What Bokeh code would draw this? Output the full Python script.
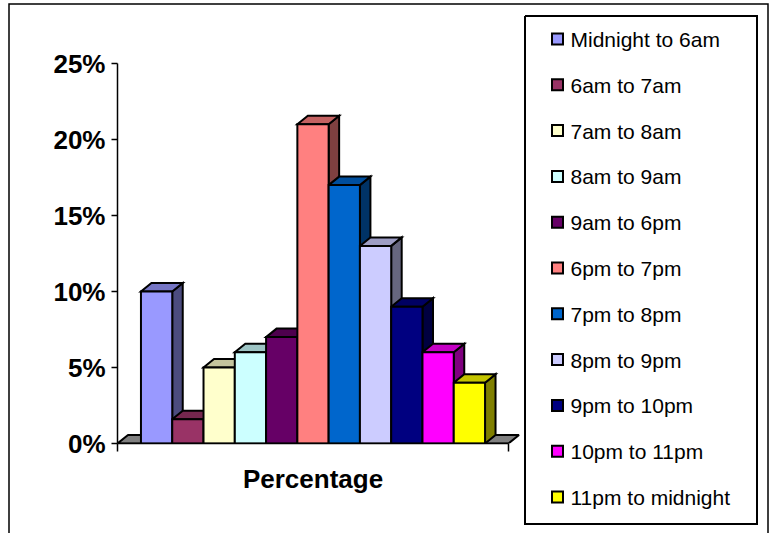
from bokeh.plotting import figure
from bokeh.models import Range1d, FixedTicker, NumeralTickFormatter
from bokeh.core.properties import value
from bokeh.embed import file_html
from bokeh.resources import INLINE

# ---------------- data ----------------
categories = ["Midnight to 6am", "6am to 7am", "7am to 8am", "8am to 9am",
              "9am to 6pm", "6pm to 7pm", "7pm to 8pm", "8pm to 9pm",
              "9pm to 10pm", "10pm to 11pm", "11pm to midnight"]
values = [0.10, 0.016, 0.05, 0.06, 0.07, 0.21, 0.17, 0.13, 0.09, 0.06, 0.04]
colors = ["#9999FF", "#993366", "#FFFFCC", "#CCFFFF", "#660066", "#FF8080",
          "#0066CC", "#CCCCFF", "#000080", "#FF00FF", "#FFFF00"]
y_ticks = [0.0, 0.05, 0.10, 0.15, 0.20, 0.25]
x_label = "Percentage"

# ---------------- layout (canvas pixels) ----------------
W, H = 773, 533
FL, FT, FR, FB = 117, 30, 522, 443      # frame left/top/right/bottom
PX_X = 391.0                              # pixels per x unit (category width)
PX_Y = 1520.0                             # pixels per y unit
x_end = (FR - FL) / PX_X
y_end = (FB - FT) / PX_Y
DX = 10.5 / PX_X                          # 3-D depth offset
DY = 8.5 / PX_Y
FONT = "Liberation Sans"
LW = 2


def shade(hexcol, f):
    r, g, b = (int(hexcol[i:i + 2], 16) for i in (1, 3, 5))
    return "#%02x%02x%02x" % (int(r * f), int(g * f), int(b * f))


def to_data(sx, sy):
    return (sx - FL) / PX_X, (FB - sy) / PX_Y


p = figure(width=W, height=H, output_backend="svg", toolbar_location=None,
           x_range=Range1d(0, x_end), y_range=Range1d(0, y_end),
           min_border_left=FL, min_border_right=W - FR,
           min_border_top=FT, min_border_bottom=H - FB)
p.grid.visible = False
p.outline_line_color = None
p.background_fill_color = "white"
p.border_fill_color = "white"

# floor
p.patch(x=[0, 1, 1 + DX, DX], y=[0, 0, DY, DY], fill_color="#808080",
        line_color="black", line_width=LW)

n = len(values)
w = 1.0 / (n + 1.5)
gap = 0.75 * w
lefts = [gap + i * w for i in range(n)]
rights = [l + w for l in lefts]

side_xs = [[r, r + DX, r + DX, r] for r in rights]
side_ys = [[0, DY, v + DY, v] for v in values]
top_xs = [[l, r, r + DX, l + DX] for l, r in zip(lefts, rights)]
top_ys = [[v, v, v + DY, v + DY] for v in values]

p.patches(xs=side_xs, ys=side_ys, fill_color=[shade(c, 0.5) for c in colors],
          line_color="black", line_width=LW, line_join="miter")
p.patches(xs=top_xs, ys=top_ys, fill_color=[shade(c, 0.77) for c in colors],
          line_color="black", line_width=LW, line_join="miter")
p.quad(left=lefts, right=rights, bottom=0, top=values,
       fill_color=colors, line_color="black", line_width=LW,
       line_join="miter")

# axes
xa = p.xaxis[0]
xa.ticker = FixedTicker(ticks=[0.5], minor_ticks=[0, 1])
xa.bounds = (0, 1)
xa.major_label_overrides = {0.5: x_label}
xa.major_tick_line_color = None
xa.major_tick_out = 0
xa.major_tick_in = 0
xa.minor_tick_out = 8
xa.minor_tick_in = 0
xa.minor_tick_line_color = "black"
xa.minor_tick_line_width = 1.5
xa.axis_line_width = 1.5
xa.axis_line_color = "black"
xa.major_label_text_font = FONT
xa.major_label_text_font_style = "bold"
xa.major_label_text_font_size = "26px"
xa.major_label_text_color = "black"
xa.major_label_standoff = 12

ya = p.yaxis[0]
ya.ticker = FixedTicker(ticks=y_ticks)
ya.bounds = (0, 0.25)
ya.formatter = NumeralTickFormatter(format="0%")
ya.major_tick_out = 6
ya.major_tick_in = 0
ya.major_tick_line_width = 1.5
ya.major_tick_line_color = "black"
ya.minor_tick_line_color = None
ya.axis_line_width = 1.5
ya.axis_line_color = "black"
ya.major_label_text_font = FONT
ya.major_label_text_font_style = "bold"
ya.major_label_text_font_size = "26px"
ya.major_label_text_color = "black"
ya.major_label_standoff = 6

# legend (drawn on the overlay level so it is not clipped to the frame)
LEG_ICON_X, LEG_TEXT_X, LEG_Y0, LEG_DY, ICON = 557.0, 570.0, 38.5, 45.8, 11.0
for i, (c, lab) in enumerate(zip(colors, categories)):
    cy = LEG_Y0 + i * LEG_DY
    sq = [(LEG_ICON_X - ICON / 2, cy - ICON / 2), (LEG_ICON_X + ICON / 2, cy - ICON / 2),
          (LEG_ICON_X + ICON / 2, cy + ICON / 2), (LEG_ICON_X - ICON / 2, cy + ICON / 2)]
    sx, sy = zip(*[to_data(a, b) for a, b in sq])
    p.patch(x=list(sx), y=list(sy), fill_color=c, line_color="black",
            line_width=2, line_join="miter", level="overlay")
text_pts = [to_data(LEG_TEXT_X, LEG_Y0 + 0.5 + i * LEG_DY) for i in range(n)]
p.text(x=[a for a, b in text_pts], y=[b for a, b in text_pts], text=categories,
       text_font=value(FONT), text_font_size="21px", text_color="black",
       text_baseline="middle", text_align="left", level="overlay")

# legend box and outer chart border
box_px = [(524.5, 15.5), (756.5, 15.5), (756.5, 523.5), (524.5, 523.5), (524.5, 15.5)]
outer_px = [(8.5, 600), (8.5, 3.5), (767.5, 3.5), (767.5, 600)]
bx, by = zip(*[to_data(a, b) for a, b in box_px])
ox, oy = zip(*[to_data(a, b) for a, b in outer_px])
p.line(x=list(bx), y=list(by), line_color="black", line_width=2,
       line_join="miter", level="overlay")
p.line(x=list(ox), y=list(oy), line_color="black", line_width=1.5,
       line_join="miter", level="overlay")

open("out.html", "w").write(file_html(p, INLINE))
